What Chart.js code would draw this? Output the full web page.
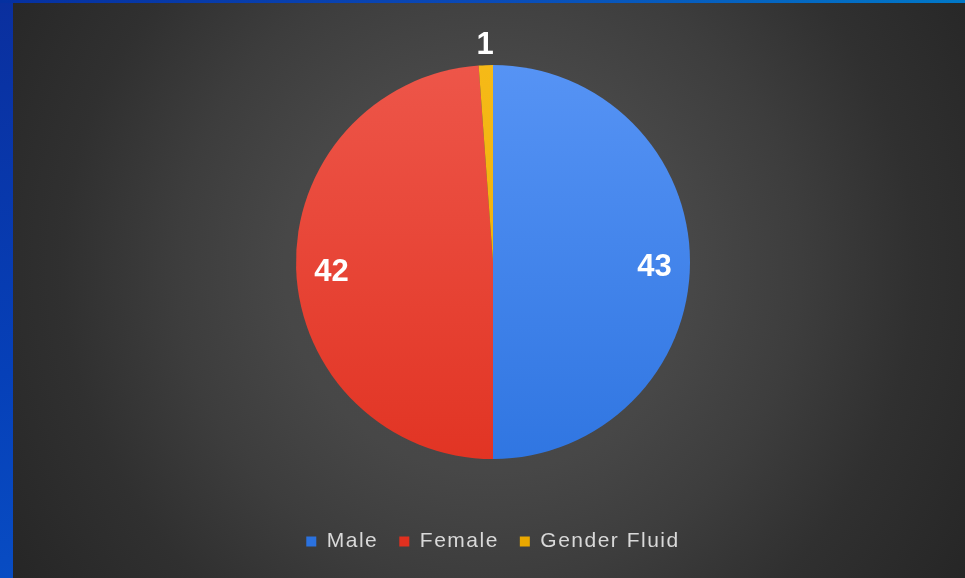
<!DOCTYPE html>
<html>
<head>
<meta charset="utf-8">
<script src="https://cdn.jsdelivr.net/npm/chart.js@4.4.0/dist/chart.umd.min.js"></script>
<style>
  html, body { margin: 0; padding: 0; }
  body {
    width: 965px; height: 578px; overflow: hidden; position: relative;
    background: linear-gradient(170deg, #0a2f9e 0%, #0640b8 50%, #0a56cc 100%);
  }
  .topbar {
    position: absolute; left: 0; top: 0; width: 965px; height: 3px;
    background: linear-gradient(90deg, #0530a0 0%, #0a4ab8 50%, #0078c8 100%);
  }
  #wrap {
    position: absolute; left: 13px; top: 3px; width: 952px; height: 575px;
    background: radial-gradient(circle farthest-corner at 50% 46%,
      #4c4c4c 0%, #474747 36%, #3d3d3d 55%, #303030 75%, #262626 100%);
  }
</style>
</head>
<body>
<div class="topbar"></div>
<div id="wrap"><canvas id="pie-chart"></canvas></div>
<script>
const categories = ['Male', 'Female', 'Gender Fluid'];
const counts = [43, 42, 1];
const topColors = ['#5b97f7', '#ef5a4e', '#f7bc1a'];
const bottomColors = ['#2b72df', '#e0301f', '#eaa800'];

function sliceFill(context) {
    const chart = context.chart;
    const area = chart.chartArea;
    if (!area) return topColors[context.dataIndex];
    const g = chart.ctx.createLinearGradient(0, area.top, 0, area.bottom);
    g.addColorStop(0, topColors[context.dataIndex]);
    g.addColorStop(1, bottomColors[context.dataIndex]);
    return g;
}

// legend text in the original is a bit wider than plain Arial
const wideText = {
    id: 'wideText',
    beforeLayout(chart) { chart.ctx.letterSpacing = '1.5px'; },
    beforeDraw(chart) { chart.ctx.letterSpacing = '1.5px'; }
};

// value labels: inside the slice, or just outside if the slice is thin
const valueLabels = {
    id: 'valueLabels',
    afterDatasetsDraw(chart) {
        const ctx = chart.ctx;
        const meta = chart.getDatasetMeta(0);
        const total = counts.reduce((a, b) => a + b, 0);
        ctx.save();
        ctx.letterSpacing = '0px';
        ctx.fillStyle = '#ffffff';
        ctx.font = 'bold 31px "Liberation Sans", Arial, sans-serif';
        ctx.textAlign = 'center';
        ctx.textBaseline = 'middle';
        meta.data.forEach((arc, i) => {
            const p = arc.getProps(['x', 'y', 'startAngle', 'endAngle', 'outerRadius'], true);
            const mid = (p.startAngle + p.endAngle) / 2;
            const outside = counts[i] / total < 0.05;
            const r = outside ? p.outerRadius + 22 : p.outerRadius * 0.82;
            const dy = outside ? 2 : 5;
            ctx.fillText(String(counts[i]), p.x + Math.cos(mid) * r, p.y + Math.sin(mid) * r + dy);
        });
        ctx.restore();
    }
};

new Chart(document.getElementById('pie-chart'), {
    type: 'pie',
    data: {
        labels: categories,
        datasets: [{
            data: counts,
            backgroundColor: sliceFill,
            borderWidth: 0,
            radius: 197
        }]
    },
    options: {
        responsive: true,
        maintainAspectRatio: false,
        animation: false,
        layout: { padding: { top: 11, bottom: 16, left: 8, right: 0 } },
        plugins: {
            legend: {
                position: 'bottom',
                labels: {
                    color: '#d9d9d9',
                    font: { family: '"Liberation Sans", Arial, sans-serif', size: 21 },
                    boxWidth: 10,
                    boxHeight: 10,
                    padding: 21
                }
            },
            tooltip: { enabled: false }
        }
    },
    plugins: [wideText, valueLabels]
});
</script>
</body>
</html>
